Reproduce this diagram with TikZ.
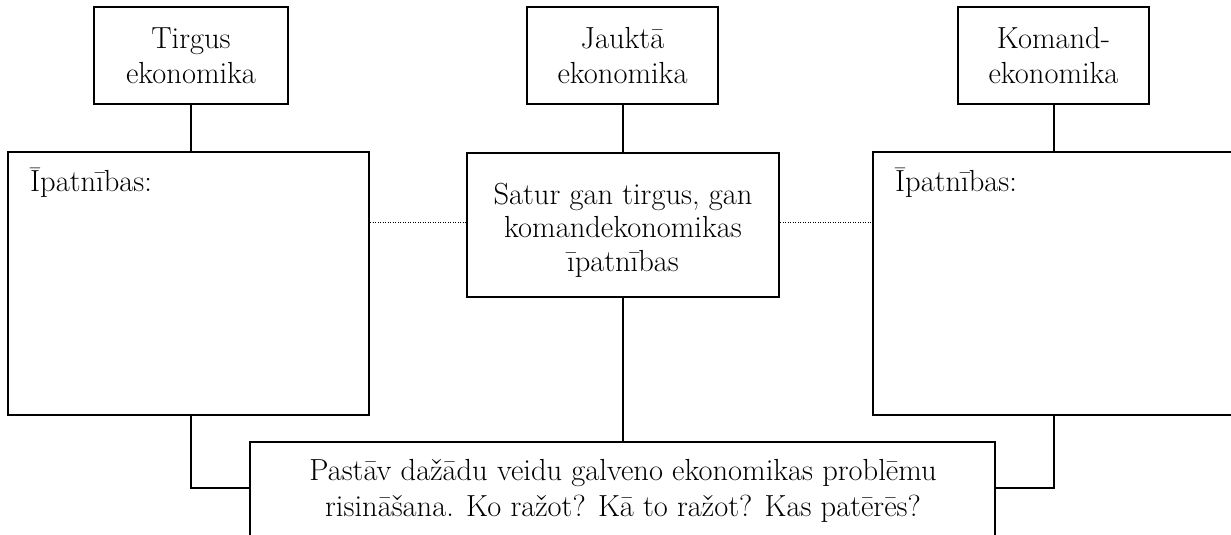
\documentclass[tikz,border=0pt]{standalone}
\usepackage{fontspec}
\begin{document}
\begin{tikzpicture}[x=1pt,y=-1pt,
  box/.style={draw,line width=2pt,inner sep=0pt,align=center},
  conn/.style={line width=2pt},
  dots/.style={line width=1pt,dash pattern=on 1pt off 1.5pt},
  txt/.style={font=\fontsize{30.5}{35}\selectfont}]
\useasboundingbox (0,0) rectangle (1231,535);
\clip (0,0) rectangle (1231,535);
% top boxes
\node[box,txt,minimum width=194pt,minimum height=97pt] (tirgus) at (191,55.5) {Tirgus\\ekonomika};
\node[box,txt,minimum width=191pt,minimum height=97pt] (jaukta) at (622.5,55.5) {Jauktā\\ekonomika};
\node[box,txt,minimum width=191pt,minimum height=97pt] (komand) at (1053.5,55.5) {Komand-\\ekonomika};
% middle row
\node[box,minimum width=361pt,minimum height=263pt] (leftbox) at (188.5,283.5) {};
\node[txt,anchor=base west,inner sep=0pt] (ltitle) at (30,191) {Īpatnības:};
\node[box,minimum width=312pt,minimum height=144pt] (midbox) at (623,225) {};
\node[font=\fontsize{30.5}{33.5}\selectfont,align=center,inner sep=0pt] (midtext) at (623,230) {Satur gan tirgus, gan\\komandekonomikas\\īpatnības};
\node[box,minimum width=372pt,minimum height=263pt] (rightbox) at (1059,283.5) {};
\node[txt,anchor=base west,inner sep=0pt] (rtitle) at (895,191) {Īpatnības:};
% bottom box
\node[box,minimum width=745pt,minimum height=120pt,anchor=north] (bottom) at (622.5,441) {};
\node[font=\fontsize{30.5}{36.5}\selectfont,align=center,inner sep=0pt] (btext) at (623,491) {Pastāv dažādu veidu galveno ekonomikas problēmu\\risināšana. Ko ražot? Kā to ražot? Kas patērēs?};
% connectors
\coordinate (lj) at (0,488);
\coordinate (dl) at (0,222);
\draw[conn] (tirgus.south) -- (tirgus.south |- leftbox.north);
\draw[conn] (jaukta.south) -- (jaukta.south |- midbox.north);
\draw[conn] (komand.south) -- (komand.south |- rightbox.north);
\draw[conn] (midbox.south) -- (midbox.south |- bottom.north);
\draw[conn] (tirgus.south |- leftbox.south) -- (tirgus.south |- lj) -- (lj -| bottom.west);
\draw[conn] (komand.south |- rightbox.south) -- (komand.south |- lj) -- (lj -| bottom.east);
\draw[dots] (leftbox.east |- dl) -- (midbox.west |- dl);
\draw[dots] (midbox.east |- dl) -- (rightbox.west |- dl);
\end{tikzpicture}
\end{document}
